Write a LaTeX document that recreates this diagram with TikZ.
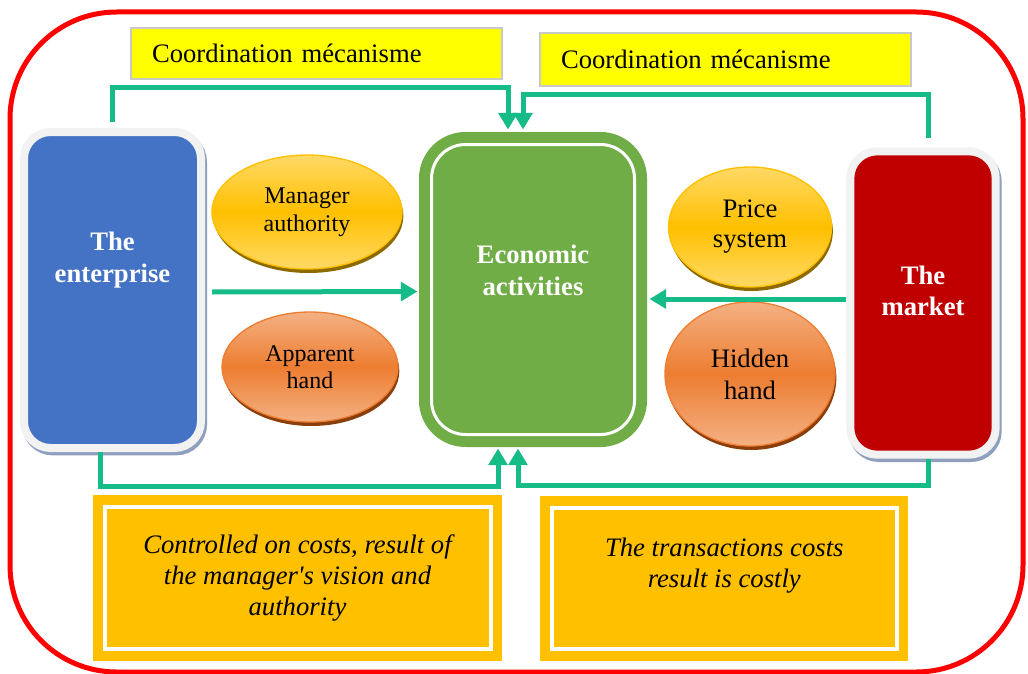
\documentclass[tikz,border=0pt]{standalone}
\usepackage{fontspec}
\setmainfont{Liberation Serif}
\usetikzlibrary{shapes.geometric,shadows,arrows.meta,calc}

\definecolor{framered}{HTML}{FF0000}
\definecolor{coordyellow}{HTML}{FFFF00}
\definecolor{coordgray}{HTML}{C9C9C9}
\definecolor{entblue}{HTML}{4472C4}
\definecolor{mktred}{HTML}{C00000}
\definecolor{ecogreen}{HTML}{70AD47}
\definecolor{flowgreen}{RGB}{22,188,135}
\definecolor{gold}{HTML}{FFC000}
\definecolor{goldlight}{HTML}{FFD966}
\definecolor{goldshadow}{HTML}{8C6A00}
\definecolor{handorange}{HTML}{ED7D31}
\definecolor{orangelight}{HTML}{F4B183}
\definecolor{orangeshadow}{HTML}{8A3E0C}
\definecolor{boxframe}{HTML}{F2F2F2}
\definecolor{boxshadow}{HTML}{8EA0BE}

\tikzstyle{coord} = [rectangle, fill=coordyellow, draw=coordgray, line width=1.5pt, minimum width=278.25pt, text width=246.75pt, align=left, font=\fontsize{20}{24}\selectfont]
\tikzstyle{block} = [rectangle, rounded corners=20pt, draw=boxframe, line width=6pt, preaction={fill=boxshadow, draw=boxshadow, line width=6pt, transform canvas={shift={(1.5pt,-2.5pt)}}}]
\tikzstyle{ecobox} = [rectangle, rounded corners=25.5pt, fill=ecogreen, draw=white, line width=2.25pt, minimum width=152.25pt, minimum height=217.5pt, preaction={draw=ecogreen, line width=18.75pt}]
\tikzstyle{blocktext} = [align=center, text=white, font=\bfseries\fontsize{20}{23.5}\selectfont]
\tikzstyle{oval} = [ellipse, inner sep=0pt, align=center, line width=1pt]
\tikzstyle{goldoval} = [oval, draw=gold, top color=goldlight, bottom color=goldlight, middle color=gold, drop shadow={shadow xshift=1pt, shadow yshift=-3pt, fill=goldshadow, opacity=1}]
\tikzstyle{orangeoval} = [oval, draw=handorange, top color=orangelight, bottom color=orangelight, middle color=handorange, drop shadow={shadow xshift=1pt, shadow yshift=-3pt, fill=orangeshadow, opacity=1}]
\tikzstyle{note} = [rectangle, fill=gold, draw=white, line width=3pt, preaction={draw=gold, line width=17.6pt}, align=center, font=\itshape\fontsize{20}{23}\selectfont]
\tikzstyle{flow} = [draw=flowgreen, line width=3.75pt, -{Triangle[width=14pt,length=12.5pt]}]

\begin{document}
\begin{tikzpicture}[x=0.75pt, y=-0.75pt]
\useasboundingbox (0,0) rectangle (1028,674);

% outer frame
\draw[framered, line width=3.75pt, rounded corners=80pt] (10,12) rectangle (1023,672);

\node[coord, minimum height=38.25pt] (coordL) at (316.5,53.5) {Coordination mécanisme};
\node[coord, minimum height=39.75pt] (coordR) at (725.5,59.5) {Coordination mécanisme};

% the three actors
\node[block, fill=entblue, minimum width=132.75pt, minimum height=237pt] (ent) at (112.5,290) {};
\node[block, fill=mktred, minimum width=109pt, minimum height=227.5pt] (mkt) at (923,303) {};
\node[ecobox] (eco) at (533,289.5) {};

\node[blocktext, yshift=22.5pt] (enttext) at (ent.center) {The\\enterprise};
\node[blocktext, yshift=9pt] (mkttext) at (mkt.center) {The\\market};
\node[blocktext, yshift=14.25pt] (ecotext) at (eco.center) {Economic\\activities};

% hands
\node[goldoval, minimum width=142.5pt, minimum height=85.5pt, font=\fontsize{18}{21}\selectfont] (mgr) at (307,212) {Manager\\authority};
\node[orangeoval, minimum width=132pt, minimum height=82.5pt, font=\fontsize{18}{20}\selectfont] (app) at (310,367) {Apparent\\hand};
\node[goldoval, minimum width=122.25pt, minimum height=90pt, font=\fontsize{20}{22.5}\selectfont] (price) at (750,227) {Price\\system};
\node[orangeoval, minimum width=127.5pt, minimum height=108pt, font=\fontsize{20}{24}\selectfont] (hidden) at (750,374) {Hidden\\hand};

% costs
\node[note, minimum width=289.5pt, minimum height=106.9pt] (costL) at (297.5,578) {Controlled on costs, result of\\the manager\textquotesingle s vision and\\authority};
\node[note, minimum width=258.5pt, minimum height=106.1pt] (costR) at (724.3,578.7) {};
\node[align=center, font=\itshape\fontsize{20}{23}\selectfont, yshift=10pt] (costRtext) at (costR.center) {The transactions costs\\result is costly};

% flows
\draw[flow, shorten <=4.5pt, shorten >=10.1pt] (ent.north) -- ++(0,-40) -| ($(eco.north)+(-25,0)$);
\draw[flow, shorten <=7pt, shorten >=10.1pt] ($(mkt.north)+(5,0)$) -- ++(0,-53) -| ($(eco.north)+(-10,0)$);
\draw[flow, shorten >=9.4pt] ($(ent.east)+(7,2)$) -- ($(eco.west)+(0,2)$);
\draw[flow, shorten >=10.1pt] ($(mkt.west)+(0,-4)$) -- ($(eco.east)+(0,9.5)$);
\draw[flow, shorten >=9.4pt] ($(ent.south)+(-12,0)$) -- ++(0,34) -| ($(eco.south)+(-35,0)$);
\draw[flow, shorten >=9.4pt] ($(mkt.south)+(5,0)$) -- ++(0,27.25) -| ($(eco.south)+(-15,0)$);
\end{tikzpicture}
\end{document}
